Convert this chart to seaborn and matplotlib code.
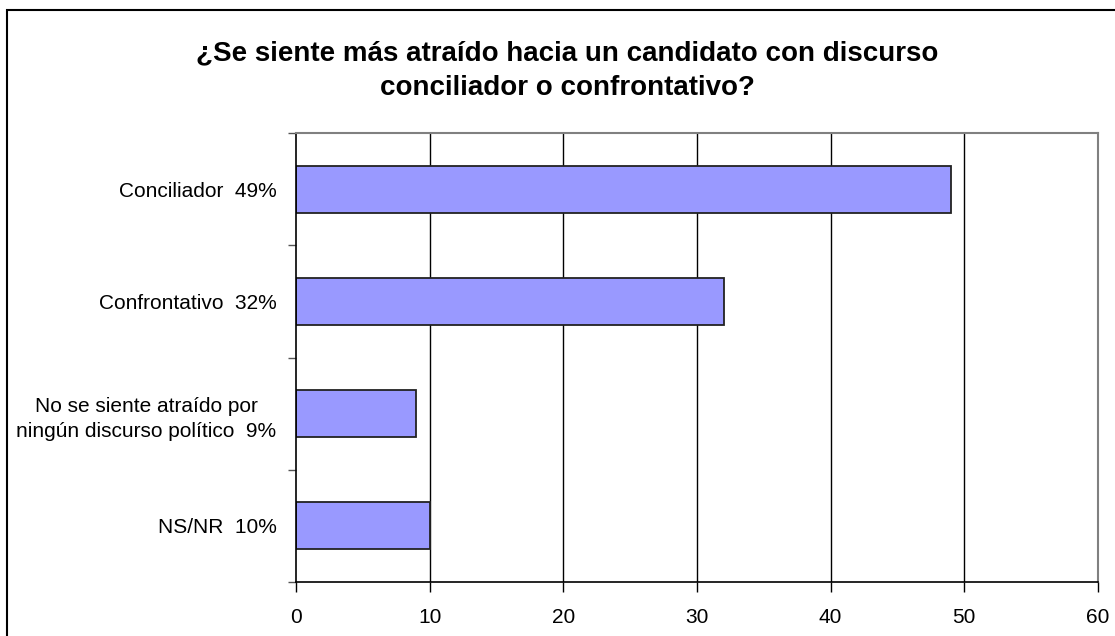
import matplotlib
matplotlib.use('Agg')
import seaborn as sns
import pandas as pd
import matplotlib.pyplot as plt
from matplotlib.patches import Rectangle

# datos de la encuesta
categorias = ['Conciliador  49%', 'Confrontativo  32%',
              'No se siente atraído por\nningún discurso político  9%', 'NS/NR  10%']
valores = [49, 32, 9, 10]
xticks = [0, 10, 20, 30, 40, 50, 60]
titulo = '¿Se siente más atraído hacia un candidato con discurso\nconciliador o confrontativo?'

df = pd.DataFrame({'categoria': categorias, 'valor': valores})

sns.set_style('white')
plt.rcParams['font.family'] = ['Liberation Sans', 'DejaVu Sans']
plt.rcParams['text.color'] = 'black'
plt.rcParams['xtick.color'] = 'black'
plt.rcParams['ytick.color'] = 'black'

fig = plt.figure(figsize=(11.15, 6.36), dpi=100)
ax = fig.add_axes([296/1115, 1-582/636, (1098-296)/1115, (582-133)/636])

sns.barplot(data=df, x='valor', y='categoria', order=categorias, orient='h',
            color='#9999FF', saturation=1, width=0.42,
            edgecolor='#222222', linewidth=1.3, ax=ax, zorder=3)

ax.set_xlim(0, 60)
ax.set_ylim(3.5, -0.5)
ax.set_xticks(xticks)
ax.set_xticklabels([str(t) for t in xticks])
ax.set_xlabel('')
ax.set_ylabel('')

# lineas de division verticales
for t in xticks[1:-1]:
    ax.axvline(t, color='black', linewidth=1, zorder=1)

ax.set_yticks([-0.5, 0.5, 1.5, 2.5, 3.5], minor=True)
ax.tick_params(axis='y', which='minor', length=6, width=1, color='#555555', direction='out', left=True)
ax.tick_params(axis='y', which='major', length=0, pad=14, labelsize=15, labelcolor='black')
for lbl in ax.get_yticklabels():
    lbl.set_multialignment('center')
    lbl.set_linespacing(1.45)
ax.tick_params(axis='x', length=7, width=1, color='black', direction='out', bottom=True,
               pad=12, labelsize=15, labelcolor='black')

for s in ['left', 'bottom']:
    ax.spines[s].set_color('black')
    ax.spines[s].set_linewidth(1.2)
for s in ['top', 'right']:
    ax.spines[s].set_visible(True)
    ax.spines[s].set_color('#808080')
    ax.spines[s].set_linewidth(1.5)
for s in ax.spines.values():
    s.set_zorder(4)

fig.text(567/1115, 1-70.5/636, titulo, ha='center', va='center', fontsize=20,
         fontweight='bold', linespacing=1.45, color='black')

# marco del grafico
fig.add_artist(Rectangle((7/1115, -0.1), 1.2, 1-10/636+0.1, transform=fig.transFigure,
                         fill=False, edgecolor='black', linewidth=1.5))

fig.savefig('out.png', dpi=100)
